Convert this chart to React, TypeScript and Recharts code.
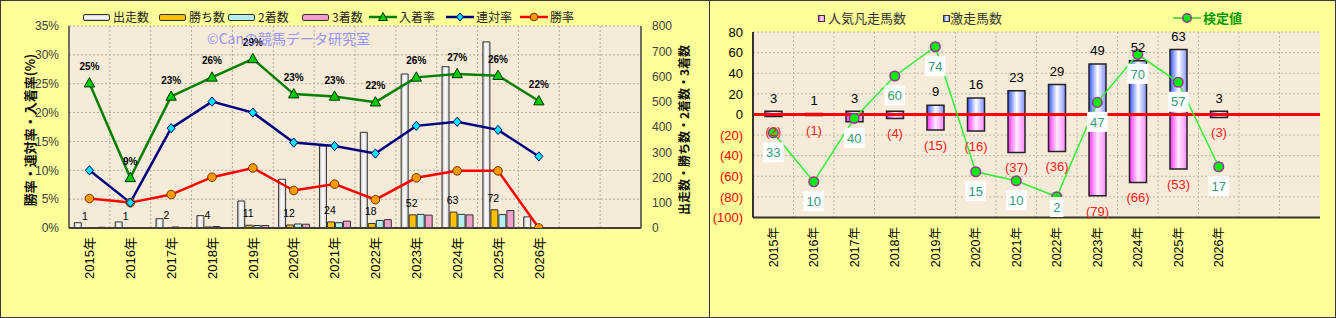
import React from 'react';
import {
  ComposedChart, Bar, Line, XAxis, YAxis, CartesianGrid, Legend, LabelList, ReferenceLine,
} from 'recharts';

// ---------- shared categories ----------
const years = ['2015年', '2016年', '2017年', '2018年', '2019年', '2020年', '2021年', '2022年', '2023年', '2024年', '2025年', '2026年'];
const blankSlots = [' ', '  '];

// ---------- left chart data ----------
const runs = [21, 24, 37, 49, 107, 193, 325, 379, 610, 639, 737, 44];
const wins = [1, 1, 2, 4, 11, 12, 24, 18, 52, 63, 72, 0];
const seconds = [1, 0, 4, 6, 10, 16, 21, 30, 54, 54, 53, 1];
const thirds = [3, 1, 2, 2, 10, 15, 27, 33, 51, 52, 69, 1];
const winRate = [5.1, 4.4, 5.8, 8.8, 10.4, 6.5, 7.6, 4.9, 8.7, 9.9, 9.9, 0];
const rentaiRate = [10.0, 4.4, 17.3, 21.9, 20.0, 14.8, 14.2, 12.9, 17.7, 18.4, 17.0, 12.4];
const placeRate = [25.1, 8.7, 22.8, 26.1, 29.3, 23.2, 22.8, 21.8, 26.1, 26.7, 26.4, 22.0];
const leftRateTicks = [0, 5, 10, 15, 20, 25, 30, 35];
const leftCountTicks = [0, 100, 200, 300, 400, 500, 600, 700, 800];
const leftBarNames = ['出走数', '勝ち数', '2着数', '3着数'];
const leftLineNames = ['入着率', '連対率', '勝率'];
const leftAxisTitle = '勝率・連対率・入着率(%)';
const rightAxisTitle = '出走数・勝ち数・2着数・3着数';
const watermark = '©Canの競馬データ研究室';

// ---------- right chart data ----------
const gekisou = [3, 1, 3, 3, 9, 16, 23, 29, 49, 52, 63, 3];
const bonsou = [-2, -1, -7, -4, -15, -16, -37, -36, -79, -66, -53, -3];
const kentei = [-17.8, -65.3, -3.8, 37.3, 65.7, -55.6, -64.3, -79.9, 11.7, 58.3, 31.2, -50.8];
const kenteiLabel = [33, 10, 40, 60, 74, 15, 10, 2, 47, 70, 57, 17];
const rightYTicks = [-100, -80, -60, -40, -20, 0, 20, 40, 60, 80];
const rightNames = ['人気凡走馬数', '激走馬数', '検定値'];

const leftData = [
  ...years.map((y, i) => ({
    year: y, runs: runs[i], wins: wins[i], seconds: seconds[i], thirds: thirds[i],
    winRate: winRate[i], rentaiRate: rentaiRate[i], placeRate: placeRate[i],
  })),
  ...blankSlots.map((b) => ({ year: b })),
];

const rightData = [
  ...years.map((y, i) => ({
    year: y, gekisou: gekisou[i], bonsou: bonsou[i], kentei: kentei[i], kenteiLabel: kenteiLabel[i],
  })),
  ...blankSlots.map((b) => ({ year: b })),
];

const FONT_NUM = "'Liberation Sans', Arial, 'Noto Sans CJK JP', sans-serif";
const FONT_JP = "'Noto Sans CJK JP', 'Liberation Sans', sans-serif";
const SLOTS = years.length + blankSlots.length;

const boundaryGen = (args: any) => {
  const off = args.offset;
  const out: number[] = [];
  for (let i = 1; i < SLOTS; i++) out.push(off.left + (i * off.width) / SLOTS);
  return out;
};

function YearTick(props: any) {
  const { x, y, payload, fs, gap } = props;
  const v = String(payload?.value ?? '').trim();
  if (!v) return <g />;
  const ty = y + gap;
  return (
    <text x={x} y={ty} transform={`rotate(-90 ${x} ${ty})`} textAnchor="end" dy="0.36em"
      fontSize={fs} fill="#000" fontFamily={FONT_NUM}>{v}</text>
  );
}

function RYTick(props: any) {
  const { x, y, payload } = props;
  const v = payload.value;
  return (
    <text x={x} y={y} dy="0.36em" textAnchor="end" fontSize={13} fontFamily={FONT_NUM}
      fill={v < 0 ? '#ff0000' : '#000'}>{v < 0 ? `(${-v})` : v}</text>
  );
}

const TriDot = (p: any) => {
  const { cx, cy, index } = p;
  if (cx == null || cy == null) return <g key={`t${index}`} />;
  return <polygon key={`t${index}`} points={`${cx},${cy - 5.5} ${cx - 5.2},${cy + 3.8} ${cx + 5.2},${cy + 3.8}`}
    fill="#00cc00" stroke="#003300" strokeWidth={1} />;
};
const DiaDot = (p: any) => {
  const { cx, cy, index } = p;
  if (cx == null || cy == null) return <g key={`d${index}`} />;
  return <polygon key={`d${index}`} points={`${cx},${cy - 4.6} ${cx + 4},${cy} ${cx},${cy + 4.6} ${cx - 4},${cy}`}
    fill="#00e5ff" stroke="#000066" strokeWidth={1} />;
};
const CirDot = (p: any) => {
  const { cx, cy, index } = p;
  if (cx == null || cy == null) return <g key={`c${index}`} />;
  return <circle key={`c${index}`} cx={cx} cy={cy} r={4.3} fill="#ff9900" stroke="#663300" strokeWidth={1} />;
};
const KDot = (p: any) => {
  const { cx, cy, index } = p;
  if (cx == null || cy == null) return <g key={`k${index}`} />;
  return <circle key={`k${index}`} cx={cx} cy={cy} r={4.8} fill="#00ee00" stroke="#993399" strokeWidth={1.5} />;
};

const WinLabel = (p: any) => {
  const { x, y, width, value } = p;
  if (!value) return null;
  return <text x={x + width / 2 - 1} y={y - 12} dy="0.36em" textAnchor="middle" fontSize={10.5}
    fill="#000" fontFamily={FONT_NUM}>{value}</text>;
};
const PlaceLabel = (p: any) => {
  const { x, y, value } = p;
  if (value == null) return null;
  return <text x={x} y={y - 16.5} dy="0.36em" textAnchor="middle" fontSize={10} fontWeight="bold"
    fill="#000" fontFamily={FONT_NUM}>{`${Math.round(value)}%`}</text>;
};
const PosLabel = (p: any) => {
  const { x, y, width, height, value } = p;
  if (value == null) return null;
  const top = Math.min(y, y + height);
  return <text x={x + width / 2} y={top - 13.5} dy="0.36em" textAnchor="middle" fontSize={13}
    fill="#000" fontFamily={FONT_NUM}>{value}</text>;
};
const NegLabel = (p: any) => {
  const { x, y, width, height, value } = p;
  if (value == null) return null;
  const bottom = Math.max(y, y + height);
  return <text x={x + width / 2} y={bottom + 15} dy="0.36em" textAnchor="middle" fontSize={13}
    fill="#ff2020" fontFamily={FONT_NUM}>{`(${-value})`}</text>;
};
const KLabel = (p: any) => {
  const { x, y, value } = p;
  if (value == null) return null;
  const s = String(value);
  const w = s.length * 7.3 + 6;
  const cy = Math.min(y + 19.5, 207);
  return (
    <g>
      <rect x={x - w / 2} y={cy - 10} width={w} height={20} fill="#ffffff" />
      <text x={x} y={cy} dy="0.36em" textAnchor="middle" fontSize={13} fill="#339977" fontFamily={FONT_NUM}>{s}</text>
    </g>
  );
};

const LeftTitle = (p: any) => {
  const vb = p.viewBox || {};
  const cx = vb.x + 30;
  const cy = vb.y + vb.height / 2 + 3;
  return <text x={cx} y={cy} transform={`rotate(-90 ${cx} ${cy})`} textAnchor="middle" dy="0.36em"
    fontSize={13} fontWeight="bold" fill="#111" fontFamily={FONT_JP}>{leftAxisTitle}</text>;
};
const RightTitle = (p: any) => {
  const vb = p.viewBox || {};
  const cx = vb.x + 44;
  const cy = vb.y + vb.height / 2 + 3;
  return <text x={cx} y={cy} transform={`rotate(-90 ${cx} ${cy})`} textAnchor="middle" dy="0.36em"
    fontSize={12} fontWeight="bold" fill="#111" fontFamily={FONT_JP}>{rightAxisTitle}</text>;
};

const barIconBg = [
  'linear-gradient(180deg,#d0d0d0,#ffffff 50%,#c8c8c8)',
  '#ffc000',
  '#b4f0f0',
  '#f0a0cc',
];

function LineIcon({ color, kind }: { color: string; kind: string }) {
  return (
    <svg width={28} height={12} style={{ position: 'absolute', left: 0, top: -6 }}>
      <line x1={0} y1={6} x2={28} y2={6} stroke={color} strokeWidth={2.5} />
      {kind === 'tri' && <polygon points="14,1.5 9.5,9.5 18.5,9.5" fill="#00cc00" stroke="#003300" strokeWidth={1} />}
      {kind === 'dia' && <polygon points="14,2 17.5,6 14,10 10.5,6" fill="#00e5ff" stroke="#000066" strokeWidth={1} />}
      {kind === 'cir' && <circle cx={14} cy={6} r={3.8} fill="#ff9900" stroke="#663300" strokeWidth={1} />}
    </svg>
  );
}

function LeftLegend() {
  const lefts = [83, 159, 228, 302, 369, 446, 520];
  const lines = [
    { color: '#008000', kind: 'tri' },
    { color: '#000080', kind: 'dia' },
    { color: '#ff0000', kind: 'cir' },
  ];
  const names = [...leftBarNames, ...leftLineNames];
  return (
    <div style={{ position: 'relative', width: 710, height: 30, fontFamily: FONT_JP, fontSize: 12, color: '#222' }}>
      {names.map((n, i) => (
        <div key={n} style={{ position: 'absolute', left: lefts[i], top: 16.5 }}>
          {i < 4 ? (
            <div style={{
              position: 'absolute', left: 0, top: -3, width: 25, height: 5, borderRadius: 2,
              border: '1px solid #333', background: barIconBg[i],
            }} />
          ) : (
            <LineIcon color={lines[i - 4].color} kind={lines[i - 4].kind} />
          )}
          <span style={{ position: 'absolute', left: 30, top: -9, lineHeight: '18px', whiteSpace: 'nowrap' }}>{n}</span>
        </div>
      ))}
    </div>
  );
}

function RightLegend() {
  return (
    <div style={{ position: 'relative', width: 627, height: 30, fontFamily: FONT_JP, fontSize: 13, color: '#333' }}>
      <div style={{ position: 'absolute', left: 109, top: 14.5, width: 5, height: 5, border: '1.5px solid #333',
        background: 'linear-gradient(90deg,#ff44ff,#ffe8ff 55%,#ff88ff)' }} />
      <span style={{ position: 'absolute', left: 119, top: 8, lineHeight: '20px', whiteSpace: 'nowrap' }}>{rightNames[0]}</span>
      <div style={{ position: 'absolute', left: 234, top: 14.5, width: 5, height: 5, border: '1.5px solid #333',
        background: 'linear-gradient(90deg,#4466ff,#ffffff 55%,#8899ff)' }} />
      <span style={{ position: 'absolute', left: 241, top: 8, lineHeight: '20px', whiteSpace: 'nowrap' }}>{rightNames[1]}</span>
      <svg width={28} height={12} style={{ position: 'absolute', left: 464, top: 12 }}>
        <line x1={0} y1={6} x2={28} y2={6} stroke="#33cc33" strokeWidth={1.5} />
        <circle cx={14} cy={6} r={4.2} fill="#00ee00" stroke="#993399" strokeWidth={1.5} />
      </svg>
      <span style={{ position: 'absolute', left: 494, top: 8, lineHeight: '20px', whiteSpace: 'nowrap',
        color: '#009900', fontWeight: 'bold' }}>{rightNames[2]}</span>
    </div>
  );
}

function LeftChart() {
  return (
    <ComposedChart width={710} height={318} data={leftData} margin={{ top: 26, right: 0, bottom: 0, left: 0 }}
      barCategoryGap="13%" barGap={1}>
      <defs>
        <linearGradient id="gWhite" x1="0" y1="0" x2="1" y2="0">
          <stop offset="0%" stopColor="#bcbcbc" />
          <stop offset="45%" stopColor="#ffffff" />
          <stop offset="100%" stopColor="#d4d4d4" />
        </linearGradient>
      </defs>
      <CartesianGrid yAxisId="left" fill="#F5EBD8" fillOpacity={1} stroke="#b3aa9a" strokeDasharray="2 2"
        verticalCoordinatesGenerator={boundaryGen} />
      <XAxis dataKey="year" interval={0} height={90} tickSize={0} tickMargin={0} tickLine={false}
        tick={<YearTick fs={13} gap={9} />} axisLine={{ stroke: '#404040', strokeWidth: 2 }} />
      <XAxis xAxisId="top" orientation="top" height={0} tick={false} tickLine={false}
        axisLine={{ stroke: '#a8a8a8' }} />
      <YAxis yAxisId="left" domain={[0, 35]} ticks={leftRateTicks} interval={0} tickFormatter={(v: number) => `${v}%`}
        width={69} tickSize={0} tickMargin={10} tickLine={false}
        tick={{ fill: '#404040', fontSize: 12, fontFamily: FONT_NUM }}
        axisLine={{ stroke: '#404040', strokeWidth: 1.5 }} label={LeftTitle} allowDataOverflow />
      <YAxis yAxisId="right" orientation="right" domain={[0, 800]} ticks={leftCountTicks} interval={0}
        width={69} tickSize={0} tickMargin={11} tickLine={false}
        tick={{ fill: '#404040', fontSize: 12, fontFamily: FONT_NUM }}
        axisLine={{ stroke: '#404040', strokeWidth: 1.5 }} label={RightTitle} allowDataOverflow />
      <Bar yAxisId="right" dataKey="runs" name={leftBarNames[0]} fill="url(#gWhite)" stroke="#333" strokeWidth={1}
        isAnimationActive={false} />
      <Bar yAxisId="right" dataKey="wins" name={leftBarNames[1]} fill="#ffc000" stroke="#333" strokeWidth={1}
        isAnimationActive={false}>
        <LabelList dataKey="wins" content={WinLabel} />
      </Bar>
      <Bar yAxisId="right" dataKey="seconds" name={leftBarNames[2]} fill="#b4f0f0" stroke="#333" strokeWidth={1}
        isAnimationActive={false} />
      <Bar yAxisId="right" dataKey="thirds" name={leftBarNames[3]} fill="#f0a0cc" stroke="#333" strokeWidth={1}
        isAnimationActive={false} />
      <Line yAxisId="left" dataKey="winRate" name={leftLineNames[2]} stroke="#ff0000" strokeWidth={2.5}
        dot={CirDot} activeDot={false} isAnimationActive={false} />
      <Line yAxisId="left" dataKey="rentaiRate" name={leftLineNames[1]} stroke="#000080" strokeWidth={2.5}
        dot={DiaDot} activeDot={false} isAnimationActive={false} />
      <Line yAxisId="left" dataKey="placeRate" name={leftLineNames[0]} stroke="#008000" strokeWidth={2.5}
        dot={TriDot} activeDot={false} isAnimationActive={false}>
        <LabelList dataKey="placeRate" content={PlaceLabel} />
      </Line>
      <Legend verticalAlign="middle" align="center" layout="horizontal" content={LeftLegend}
        wrapperStyle={{ top: 0, left: 0, width: 710, height: 30 }} />
    </ComposedChart>
  );
}

function RightChart() {
  return (
    <ComposedChart width={627} height={318} data={rightData} margin={{ top: 32, right: 16, bottom: 0, left: 0 }}
      stackOffset="sign">
      <defs>
        <linearGradient id="gBlue" x1="0" y1="0" x2="1" y2="0">
          <stop offset="0%" stopColor="#3355ff" />
          <stop offset="50%" stopColor="#ffffff" />
          <stop offset="100%" stopColor="#7f90ff" />
        </linearGradient>
        <linearGradient id="gPink" x1="0" y1="0" x2="1" y2="0">
          <stop offset="0%" stopColor="#ff33ff" />
          <stop offset="50%" stopColor="#ffeaff" />
          <stop offset="100%" stopColor="#ff88ff" />
        </linearGradient>
      </defs>
      <CartesianGrid fill="#F5EBD8" fillOpacity={1} stroke="#bdb5a6" strokeDasharray="2 2"
        verticalCoordinatesGenerator={boundaryGen} />
      <XAxis dataKey="year" interval={0} height={100.5} tickSize={0} tickMargin={0} tickLine={false}
        tick={<YearTick fs={12.5} gap={9.5} />} axisLine={{ stroke: '#333', strokeWidth: 2 }} />
      <XAxis xAxisId="top" orientation="top" height={0} tick={false} tickLine={false}
        axisLine={{ stroke: '#999' }} />
      <YAxis domain={[-100, 80]} ticks={rightYTicks} interval={0} width={44} tickSize={0} tickMargin={10}
        tickLine={false} tick={<RYTick />} axisLine={{ stroke: '#333', strokeWidth: 2 }} allowDataOverflow />
      <YAxis yAxisId="border" orientation="right" width={0} domain={[0, 1]} tick={false} tickLine={false}
        axisLine={{ stroke: '#999' }} />
      <Bar dataKey="bonsou" stackId="s" name={rightNames[0]} fill="url(#gPink)" stroke="#222" strokeWidth={1.5}
        barSize={17} isAnimationActive={false}>
        <LabelList dataKey="bonsou" content={NegLabel} />
      </Bar>
      <Bar dataKey="gekisou" stackId="s" name={rightNames[1]} fill="url(#gBlue)" stroke="#222" strokeWidth={1.5}
        barSize={17} isAnimationActive={false}>
        <LabelList dataKey="gekisou" content={PosLabel} />
      </Bar>
      <ReferenceLine y={0} stroke="#ff0000" strokeWidth={3} />
      <Line dataKey="kentei" name={rightNames[2]} stroke="#33ee33" strokeWidth={1.5} dot={KDot}
        activeDot={false} isAnimationActive={false}>
        <LabelList dataKey="kenteiLabel" content={KLabel} />
      </Line>
      <Legend verticalAlign="middle" align="center" layout="horizontal" content={RightLegend}
        wrapperStyle={{ top: 0, left: 0, width: 627, height: 30 }} />
    </ComposedChart>
  );
}

export default function App() {
  return (
    <div style={{ position: 'relative', width: 1336, height: 318, background: '#FFFF99', overflow: 'hidden',
      fontFamily: FONT_NUM }}>
      <style>{'body{margin:0}'}</style>
      <div style={{ position: 'absolute', left: 0, top: 0, width: 710, height: 318, border: '1px solid #3a3a3a',
        boxSizing: 'border-box' }} />
      <div style={{ position: 'absolute', left: 709, top: 0, width: 627, height: 318, border: '1px solid #3a3a3a',
        boxSizing: 'border-box' }} />
      <div style={{ position: 'absolute', left: 0, top: 0 }}><LeftChart /></div>
      <div style={{ position: 'absolute', left: 709, top: 0 }}><RightChart /></div>
      <div style={{ position: 'absolute', left: 207, top: 29, fontFamily: FONT_JP, fontSize: 14, lineHeight: '18px',
        color: '#8080ff', opacity: 0.8, whiteSpace: 'nowrap', pointerEvents: 'none' }}>{watermark}</div>
    </div>
  );
}
